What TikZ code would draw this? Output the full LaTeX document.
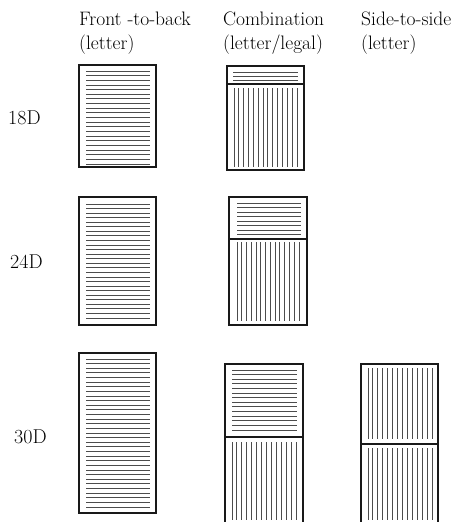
\documentclass[tikz,border=0pt]{standalone}
\begin{document}
\begin{tikzpicture}[x=1pt,y=-1pt,
  box/.style={draw=black!90,line width=1.5pt},
  ln/.style={draw=black!70,line width=0.9pt},
  lbl/.style={anchor=base west,inner sep=0pt,font=\fontsize{19.5}{24}\selectfont,align=left},
  rowlbl/.style={anchor=base west,inner sep=0pt,font=\fontsize{20}{24}\selectfont}]
\newcommand\myhlines[5]{\foreach \k in {0,...,#5}{\pgfmathsetmacro\yy{#3+(#4-#3)*\k/#5}\draw[ln] (#1,\yy) -- (#2,\yy);}}
\newcommand\myvlines[5]{\foreach \k in {0,...,#5}{\pgfmathsetmacro\xx{#1+(#2-#1)*\k/#5}\draw[ln] (\xx,#3) -- (\xx,#4);}}
\useasboundingbox (0,0) rectangle (465,522);
\clip (0,0) rectangle (465,522);
% column headings
\node[lbl] (h1) at (79,25) {Front -to-back};
\node[lbl] (h1b) at (79,49) {(letter)};
\node[lbl] (h2) at (223,25) {Combination};
\node[lbl] (h2b) at (223,49) {(letter/legal)};
\node[lbl] (h3) at (361,25) {Side-to-side};
\node[lbl] (h3b) at (361,49) {(letter)};
% row labels
\node[rowlbl] (r1) at (8,124) {18D};
\node[rowlbl] (r2) at (10,268) {24D};
\node[rowlbl] (r3) at (14,443) {30D};
% 18D
\draw[box] (79,65) rectangle (156,167);
\myhlines{86}{150}{71}{164}{20}
\draw[box] (227,66) rectangle (304,170);
\draw[box] (227,84) -- (304,84);
\myhlines{233}{298}{72}{80}{2}
\myvlines{234}{297}{88}{167}{13}
% 24D
\draw[box] (79,197) rectangle (156,325);
\myhlines{86}{150}{204}{318}{25}
\draw[box] (229,197) rectangle (307,325);
\draw[box] (229,239) -- (307,239);
\myhlines{237}{301}{203}{234.5}{7}
\myvlines{237}{299}{242}{321}{13}
% 30D
\draw[box] (79,353) rectangle (156,513);
\myhlines{86}{150}{359}{507}{32}
\draw[box] (225,540) -- (225,364) -- (303,364) -- (303,540);
\draw[box] (225,437) -- (303,437);
\myhlines{232}{297}{370}{430}{13}
\myvlines{232}{296}{442}{520}{13}
\draw[box] (361,540) -- (361,364) -- (438,364) -- (438,540);
\draw[box] (361,444) -- (438,444);
\myvlines{368}{432}{368}{439}{13}
\myvlines{368}{432}{448}{520}{13}
\end{tikzpicture}
\end{document}
